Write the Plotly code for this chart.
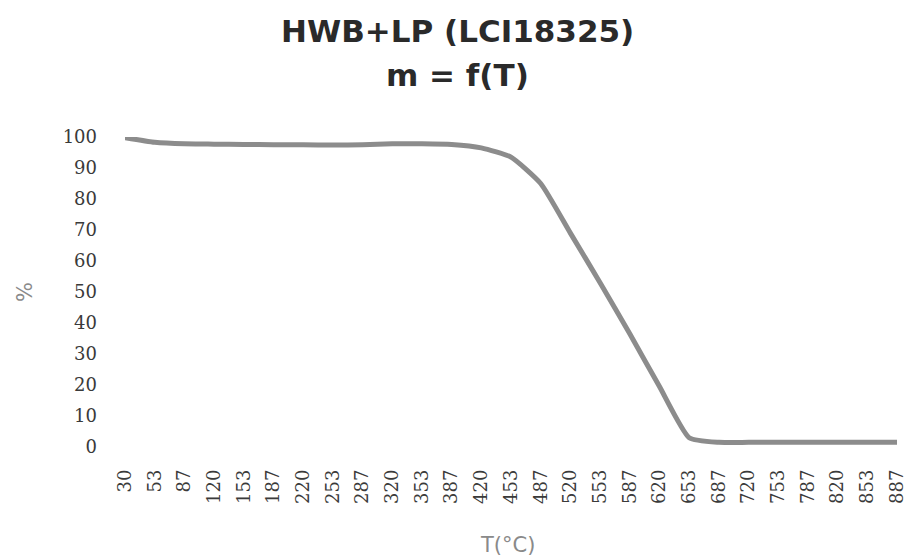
import plotly.graph_objects as go

temp_labels = ["30", "53", "87", "120", "153", "187", "220", "253", "287", "320",
               "353", "387", "420", "453", "487", "520", "553", "587", "620", "653",
               "687", "720", "753", "787", "820", "853", "887"]
mass_pct = [99.8, 98.3, 97.8, 97.7, 97.6, 97.5, 97.5, 97.4, 97.5, 97.8,
            97.8, 97.6, 96.5, 93.5, 85.0, 69.0, 53.0, 36.5, 19.5, 3.0,
            1.5, 1.5, 1.5, 1.5, 1.5, 1.5, 1.5]
y_ticks = [0, 10, 20, 30, 40, 50, 60, 70, 80, 90, 100]

idx = list(range(len(temp_labels)))

W, H = 908, 559
L, R, T, B = 125, 0, 137, 112
pw, ph = W - L - R, H - T - B

def px(xp):
    return (xp - L) / pw

def py(yp):
    return (H - B - yp) / ph

fig = go.Figure()
fig.add_trace(go.Scatter(
    x=idx, y=mass_pct, mode="lines",
    line=dict(color="#8c8c8c", width=5, shape="spline", smoothing=0.5),
    hoverinfo="skip", showlegend=False,
))

tick_font = dict(family="DejaVu Serif", size=18, color="#3a3a3a")
title_font = dict(family="DejaVu Sans", size=31, color="#2a2a2a")

fig.update_layout(
    width=W, height=H,
    margin=dict(l=L, r=R, t=T, b=B),
    paper_bgcolor="white", plot_bgcolor="white",
    annotations=[
        dict(text="<b>HWB+LP (LCI18325)</b>", xref="paper", yref="paper",
             x=px(457), y=py(31), xanchor="center", yanchor="middle", showarrow=False,
             font=title_font),
        dict(text="<b>m = f(T)</b>", xref="paper", yref="paper",
             x=px(457), y=py(75), xanchor="center", yanchor="middle", showarrow=False,
             font=title_font),
        dict(text="T(°C)", xref="paper", yref="paper",
             x=px(507), y=py(545), xanchor="center", yanchor="middle", showarrow=False,
             font=dict(family="DejaVu Sans", size=21, color="#8a8a8a")),
        dict(text="%", xref="paper", yref="paper", textangle=-90,
             x=px(25), y=py(292), xanchor="center", yanchor="middle", showarrow=False,
             font=dict(family="DejaVu Sans", size=21, color="#8a8a8a")),
    ],
)
fig.update_xaxes(
    range=[0, 26.37],
    tickmode="array", tickvals=idx, ticktext=temp_labels,
    tickangle=-90, tickfont=tick_font,
    showgrid=False, zeroline=False, showline=False, ticks="",
    ticklabelstandoff=18,
)
fig.update_yaxes(
    range=[0, 100],
    tickmode="array", tickvals=y_ticks,
    tickfont=tick_font,
    showgrid=False, zeroline=False, showline=False, ticks="",
    ticklabelstandoff=27,
)

fig.write_html("out.html")
